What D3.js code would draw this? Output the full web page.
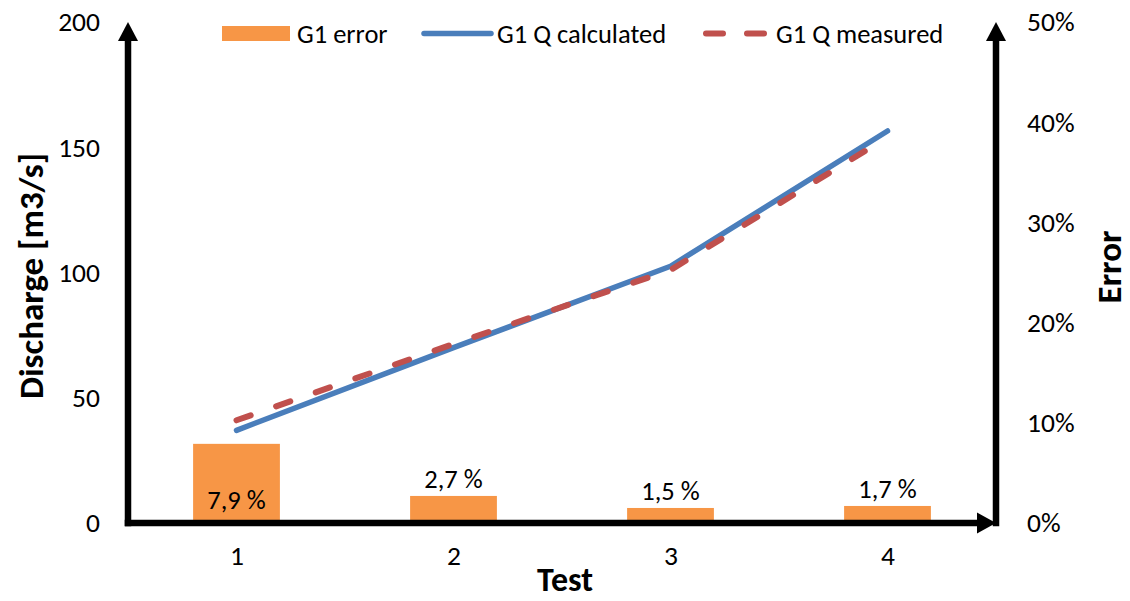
<!DOCTYPE html>
<html>
<head>
<meta charset="utf-8">
<script src="https://cdn.jsdelivr.net/npm/d3@7"></script>
<style>
  html, body { margin: 0; padding: 0; background: #fff; }
  svg { display: block; }
  text { font-family: Carlito, Calibri, Lato, "Open Sans", sans-serif; fill: #000; }
</style>
</head>
<body>
<svg id="chart" width="1130" height="601"></svg>
<script>
// Test categories
const tests = ["1", "2", "3", "4"];
// Relative error per test (percent)
const g1Error = [7.9, 2.7, 1.5, 1.7];
// Discharge per test [m3/s]
const g1QCalculated = [37, 70, 102.5, 156.5];
const g1QMeasured = [41, 71.5, 101, 154];
// Axis ticks
const dischargeTicks = [0, 50, 100, 150, 200];
const errorTicks = [0, 10, 20, 30, 40, 50];
// Legend entries
const legendLabels = ["G1 error", "G1 Q calculated", "G1 Q measured"];

const colors = { error: "#F79646", calc: "#4A7EBB", meas: "#C0504D" };

const svg = d3.select("#chart");
const plot = { left: 128, right: 996, top: 22, bottom: 523 };

const x = d3.scalePoint().domain(tests).range([plot.left, plot.right]).padding(0.5);
const yQ = d3.scaleLinear().domain([0, 200]).range([plot.bottom, plot.top]);
const yE = d3.scaleLinear().domain([0, 50]).range([plot.bottom, plot.top]);
const barW = x.step() * 0.4;

// Bars: error per test on the right-hand scale
svg.append("g").selectAll("rect").data(g1Error).join("rect")
  .attr("x", (d, i) => x(tests[i]) - barW / 2)
  .attr("y", d => yE(d))
  .attr("width", barW)
  .attr("height", d => yE(0) - yE(d))
  .attr("fill", colors.error);

// Bar value labels (decimal comma); tall bars carry the label inside
const fmtPct = d => d.toFixed(1).replace(".", ",") + " %";
svg.append("g").selectAll("text").data(g1Error).join("text")
  .attr("x", (d, i) => x(tests[i]))
  .attr("y", d => (yE(0) - yE(d) > 50) ? yE(0) - 14 : yE(d) - 8)
  .attr("text-anchor", "middle")
  .attr("font-size", 26.5)
  .text(fmtPct);

// Discharge lines
const line = d3.line().x((d, i) => x(tests[i])).y(d => yQ(d));
svg.append("path").datum(g1QCalculated)
  .attr("d", line).attr("fill", "none")
  .attr("stroke", colors.calc).attr("stroke-width", 5.5)
  .attr("stroke-linecap", "round").attr("stroke-linejoin", "round");
svg.append("path").datum(g1QMeasured)
  .attr("d", line).attr("fill", "none")
  .attr("stroke", colors.meas).attr("stroke-width", 6)
  .attr("stroke-linecap", "round").attr("stroke-dasharray", "15,27");

// Axis lines with arrowheads
const axes = svg.append("g");
const axW = 6.5;
axes.append("line").attr("x1", plot.left).attr("x2", plot.left)
  .attr("y1", plot.bottom + axW / 2).attr("y2", plot.top + 14)
  .attr("stroke", "#000").attr("stroke-width", axW);
axes.append("line").attr("x1", plot.right).attr("x2", plot.right)
  .attr("y1", plot.bottom + axW / 2).attr("y2", plot.top + 14)
  .attr("stroke", "#000").attr("stroke-width", axW);
axes.append("line").attr("x1", plot.left - axW / 2).attr("x2", plot.right - 14)
  .attr("y1", plot.bottom).attr("y2", plot.bottom)
  .attr("stroke", "#000").attr("stroke-width", axW);
const arrowUp = (cx, tip) => `M${cx},${tip}L${cx + 10},${tip + 19}L${cx - 10},${tip + 19}Z`;
axes.append("path").attr("d", arrowUp(plot.left, plot.top)).attr("fill", "#000");
axes.append("path").attr("d", arrowUp(plot.right, plot.top)).attr("fill", "#000");
axes.append("path")
  .attr("d", `M${plot.right},${plot.bottom}L${plot.right - 19},${plot.bottom - 10.5}L${plot.right - 19},${plot.bottom + 10.5}Z`)
  .attr("fill", "#000");

// Tick labels via d3 axes (tick marks and domain hidden)
const leftAxis = svg.append("g").attr("transform", `translate(${plot.left},0)`)
  .call(d3.axisLeft(yQ).tickValues(dischargeTicks).tickSize(0).tickPadding(28));
const rightAxis = svg.append("g").attr("transform", `translate(${plot.right},0)`)
  .call(d3.axisRight(yE).tickValues(errorTicks).tickSize(0).tickPadding(31).tickFormat(d => d + "%"));
const bottomAxis = svg.append("g").attr("transform", `translate(0,${plot.bottom})`)
  .call(d3.axisBottom(x).tickSize(0).tickPadding(22));
[leftAxis, rightAxis, bottomAxis].forEach(g => {
  g.select(".domain").remove();
  g.selectAll("text").attr("font-size", 27.5).attr("font-family", null).attr("fill", "#000");
  g.attr("font-family", null);
});

// Axis titles
svg.append("text").attr("x", 565).attr("y", 591).attr("text-anchor", "middle")
  .attr("font-size", 34).attr("font-weight", "bold").text("Test");
svg.append("text").attr("transform", "translate(43,276) rotate(-90)")
  .attr("text-anchor", "middle").attr("font-size", 35).attr("font-weight", "bold")
  .text("Discharge [m3/s]");
svg.append("text").attr("transform", "translate(1121,267) rotate(-90)")
  .attr("text-anchor", "middle").attr("font-size", 35).attr("font-weight", "bold")
  .text("Error");

// Legend
const legend = svg.append("g");
legend.append("rect").attr("x", 222).attr("y", 26).attr("width", 68).attr("height", 15)
  .attr("fill", colors.error);
legend.append("line").attr("x1", 424).attr("x2", 491).attr("y1", 33.5).attr("y2", 33.5)
  .attr("stroke", colors.calc).attr("stroke-width", 5.5).attr("stroke-linecap", "round");
legend.append("line").attr("x1", 706).attr("x2", 766).attr("y1", 33.5).attr("y2", 33.5)
  .attr("stroke", colors.meas).attr("stroke-width", 6).attr("stroke-linecap", "round")
  .attr("stroke-dasharray", "17,24");
[[297, legendLabels[0]], [497, legendLabels[1]], [776, legendLabels[2]]].forEach(([lx, t]) => {
  legend.append("text").attr("x", lx).attr("y", 43).attr("font-size", 26.5).text(t);
});
</script>
</body>
</html>
